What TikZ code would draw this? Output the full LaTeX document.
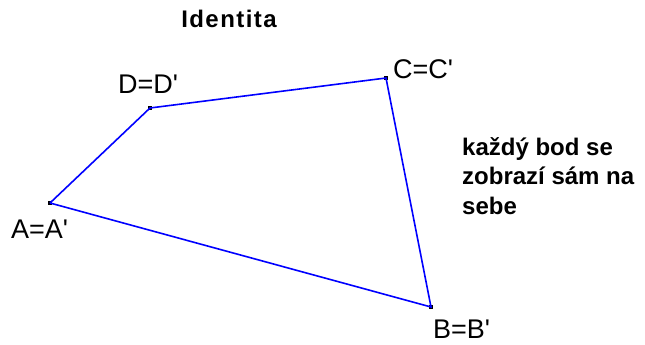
\documentclass[tikz,border=0pt]{standalone}
\usepackage{fontspec}
\setmainfont{Liberation Sans}
\begin{document}
\begin{tikzpicture}[
  x=1pt, y=-1pt,
  idside/.style = {blue, line width=1.6pt},
  idpoint/.style = {fill=black, inner sep=0pt, minimum size=4pt},
  idlbl/.style = {font=\fontsize{27}{30}\selectfont, anchor=base west, inner sep=0pt},
  idtxt/.style = {font=\bfseries\fontsize{24}{29.5}\selectfont, inner sep=0pt}
]
  \useasboundingbox[fill=white] (0,0) rectangle (645,345);
  % vrcholy
  \node[idpoint] (A) at (50,203) {};
  \node[idpoint] (B) at (431,307) {};
  \node[idpoint] (C) at (386,78) {};
  \node[idpoint] (D) at (150,108) {};
  % strany
  \draw[idside] (A.center) -- (B.center) -- (C.center) -- (D.center) -- (A.center);
  % popisky
  \node[idlbl] (lA) at (11,238) {A=A\textquotesingle};
  \node[idlbl] (lB) at (433,338) {B=B\textquotesingle};
  \node[idlbl] (lC) at (393,78) {C=C\textquotesingle};
  \node[idlbl] (lD) at (118,93) {D=D\textquotesingle};
  % nadpis a text
  \node[idtxt, anchor=base, font=\bfseries\fontsize{24}{29.5}\selectfont\addfontfeature{LetterSpace=6}] (title) at (229,28) {Identita};
  \node[idtxt, anchor=north west, align=left] (note) at (462,137)
    {každý bod se\\zobrazí sám na\\sebe};
\end{tikzpicture}
\end{document}
